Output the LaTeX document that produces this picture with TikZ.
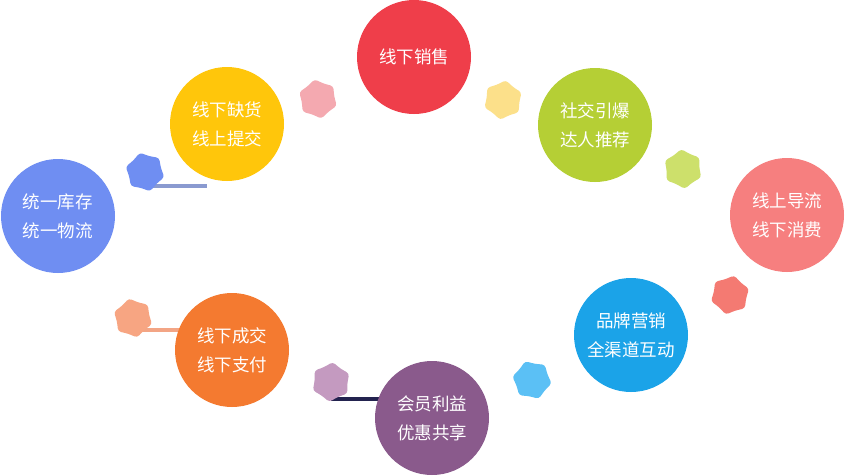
\documentclass[tikz,border=0pt]{standalone}
\usepackage{fontspec}
\newfontfamily\cjk{Noto Sans CJK SC}
\usetikzlibrary{shapes.geometric}
\definecolor{cred}{HTML}{EF3E4A}
\definecolor{cyel}{HTML}{FFC60B}
\definecolor{cviol}{HTML}{6F8EF2}
\definecolor{cgreen}{HTML}{B5CF35}
\definecolor{cpink}{HTML}{F67F7F}
\definecolor{cblue}{HTML}{1BA3E8}
\definecolor{corange}{HTML}{F47A30}
\definecolor{cpurple}{HTML}{8A5A8C}
\definecolor{spink}{HTML}{F4A9B0}
\definecolor{syel}{HTML}{FCE08A}
\definecolor{sviol}{HTML}{6F8EF2}
\definecolor{sgreen}{HTML}{CDE06B}
\definecolor{ssalmon}{HTML}{F47A72}
\definecolor{sblue}{HTML}{5BC0F5}
\definecolor{spurple}{HTML}{C49AC0}
\definecolor{speach}{HTML}{F7A582}
\definecolor{lviol}{HTML}{8A9AD0}
\definecolor{lpeach}{HTML}{F3A585}
\definecolor{lnavy}{HTML}{23234F}
\tikzset{
  bubble/.style={circle, minimum size=114pt, inner sep=0pt, text=white,
    font=\cjk\fontsize{17.5}{29}\selectfont, align=center},
  blob/.style={star, star points=6, star point ratio=1.22, minimum size=40pt,
    inner sep=0pt, rounded corners=3pt},
  link/.style={line width=4pt}
}
\begin{document}
\begin{tikzpicture}[x=1pt,y=-1pt]
\useasboundingbox[fill=white] (0,0) rectangle (846,475);
\coordinate (e3) at (207,186);
\coordinate (e7) at (182,330);
\coordinate (e8) at (382,399);
% connectors (behind)
\coordinate (p3) at (145,186);
\coordinate (p7) at (133,330);
\coordinate (p8) at (331,399);
\draw[link, lviol] (p3) -- (e3);
\draw[link, lpeach] (p7) -- (e7);
\draw[link, lnavy] (p8) -- (e8);
% stars
\node[blob, fill=spink, rotate=10] (s1) at (318,99) {};
\node[blob, fill=syel, rotate=-8] (s2) at (503,100) {};
\node[blob, fill=sviol, rotate=15] (s3) at (145,172) {};
\node[blob, fill=sgreen, rotate=5] (s4) at (683,169) {};
\node[blob, fill=ssalmon, rotate=-12] (s5) at (730,295) {};
\node[blob, fill=sblue, rotate=20] (s6) at (532,380) {};
\node[blob, fill=spurple, rotate=-5] (s7) at (331,382) {};
\node[blob, fill=speach, rotate=12] (s8) at (133,318) {};
% circles
\node[bubble, fill=cred] (c1) at (414,57) {线下销售};
\node[bubble, fill=cyel] (c2) at (227,124) {线下缺货\\线上提交};
\node[bubble, fill=cviol] (c3) at (58,216) {统一库存\\统一物流};
\node[bubble, fill=cgreen] (c4) at (595,125) {社交引爆\\达人推荐};
\node[bubble, fill=cpink] (c5) at (787,215) {线上导流\\线下消费};
\node[bubble, fill=cblue] (c6) at (631,335) {品牌营销\\全渠道互动};
\node[bubble, fill=corange] (c7) at (232,350) {线下成交\\线下支付};
\node[bubble, fill=cpurple] (c8) at (432,418) {会员利益\\优惠共享};
\end{tikzpicture}
\end{document}
